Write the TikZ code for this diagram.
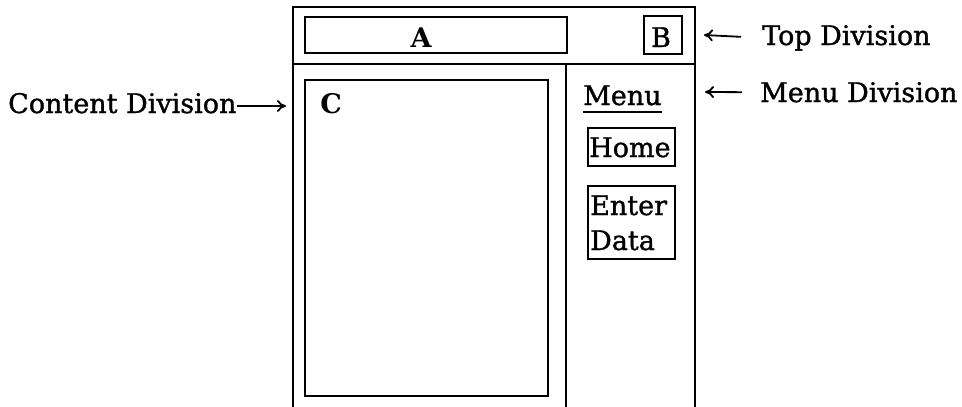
\documentclass[tikz,border=0pt]{standalone}
\usepackage{fontspec}
\setmainfont{DejaVu Serif}
\newfontfamily\heavyserif{DejaVu Serif}[FakeBold=1.2]
\usetikzlibrary{arrows.meta}
\begin{document}
\begin{tikzpicture}[x=1pt,y=-1pt,
  frame/.style={line width=2.4pt},
  box/.style={draw, line width=2.2pt, inner sep=0pt},
  lbl/.style={font=\fontsize{27}{35}\selectfont\heavyserif, inner sep=0pt},
  blbl/.style={font=\fontsize{27}{35}\selectfont\bfseries, inner sep=0pt},
  arr/.style={-{To[length=9pt,width=12pt]}, line width=1.8pt}]
\useasboundingbox (0,0) rectangle (962,407);
% outer frame (open at the bottom)
\draw[frame] (293,407) -- (293,7) -- (695,7) -- (695,407);
\draw[frame] (293,64) -- (695,64);
\draw[frame] (566,64) -- (566,407);
% top division
\node[box, minimum width=262pt, minimum height=36pt] (boxA) at (436,35) {};
\node[blbl, anchor=base] (tA) at (421,47) {A};
\node[box, minimum width=38pt, minimum height=38pt] (boxB) at (663,35) {};
\node[lbl, anchor=base] (tB) at (661,47) {B};
% content division
\node[box, minimum width=243pt, minimum height=316pt] (boxC) at (426.5,238) {};
\node[blbl, anchor=base] (tC) at (331,113) {C};
% menu division
\node[lbl, anchor=base west] (menu) at (583,105) {Menu};
\draw[line width=1.8pt] ([yshift=-7pt]menu.base west) -- ([yshift=-7pt]menu.base east);
\node[box, minimum width=87pt, minimum height=38pt] (home) at (631.5,147) {};
\node[lbl, anchor=base west] (tHome) at (589,157) {Home};
\node[box, minimum width=87pt, minimum height=73pt] (enter) at (631.5,222.5) {};
\node[lbl, anchor=base west] (tEnter) at (590,215) {Enter};
\node[lbl, anchor=base west] (tData) at (590,250) {Data};
% side labels
\node[lbl, anchor=base west] (lTop) at (762,45) {Top Division};
\coordinate (topEnd) at (704,35);
\draw[arr, shorten <=21pt] (lTop.west) -- (topEnd);
\node[lbl, anchor=base west] (lMenu) at (760,102) {Menu Division};
\coordinate (menuEnd) at (705,92);
\draw[arr, shorten <=18pt] (lMenu.west) -- (menuEnd);
\node[lbl, anchor=base west] (lContent) at (8,113) {Content Division};
\coordinate (contentEnd) at (286,106);
\draw[arr] (lContent.east |- contentEnd) -- (contentEnd);
\end{tikzpicture}
\end{document}
